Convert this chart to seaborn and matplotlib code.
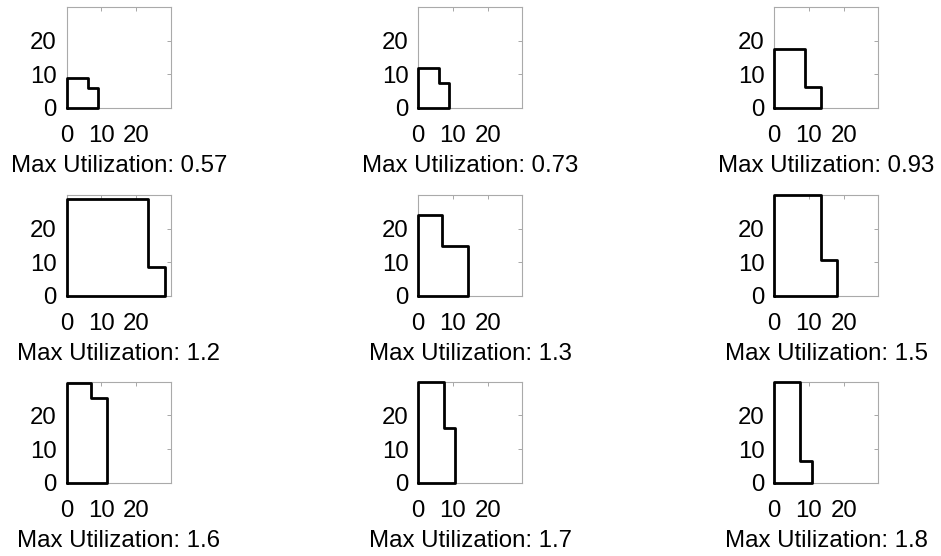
import matplotlib
matplotlib.use("Agg")
import matplotlib.pyplot as plt
import seaborn as sns
import pandas as pd

# ---- data ----
utilization = ["0.57", "0.73", "0.93", "1.2", "1.3", "1.5", "1.6", "1.7", "1.8"]
# staircase outline: height of first step, width of first step,
# height of second step, total width
step1_height = [9.0, 12.0, 17.5, 28.7, 24.2, 30.0, 29.7, 29.9, 29.9]
step1_width = [6.0, 6.0, 8.8, 23.5, 6.7, 13.4, 6.9, 7.4, 7.4]
step2_height = [6.0, 7.4, 6.1, 8.6, 14.8, 10.6, 25.2, 16.1, 6.4]
step2_width = [9.1, 8.9, 13.5, 28.3, 14.4, 18.0, 11.6, 10.5, 10.8]
tick_values = [0, 10, 20]
axis_limit = 30

sns.set_theme(style="white")
plt.rcParams["font.family"] = ["Liberation Sans", "DejaVu Sans"]

W, H = 941, 556
fig = plt.figure(figsize=(W / 100, H / 100), dpi=100)

col_left = [66.7, 418.3, 774.3]
row_top = [7, 195, 381.7]
ax_w, ax_h = 104, 101
fs = 17.3

for i in range(9):
    r, c = divmod(i, 3)
    ax = fig.add_axes([col_left[c] / W, (H - row_top[r] - ax_h) / H, ax_w / W, ax_h / H])
    for sp in ax.spines.values():
        sp.set_color("#aaaaaa")
        sp.set_linewidth(0.8)
        sp.set_zorder(1)
    xs = [0, 0, step1_width[i], step1_width[i], step2_width[i], step2_width[i], 0]
    ys = [0, step1_height[i], step1_height[i], step2_height[i], step2_height[i], 0, 0]
    df = pd.DataFrame({"x": xs, "y": ys})
    sns.lineplot(data=df, x="x", y="y", sort=False, estimator=None, color="black",
                 linewidth=2.0, ax=ax, clip_on=False, zorder=5)
    ax.set_xlim(0, axis_limit)
    ax.set_ylim(0, axis_limit)
    ax.set_xticks(tick_values)
    ax.set_yticks(tick_values)
    ax.set_xticklabels([str(t) for t in tick_values])
    ax.set_yticklabels([str(t) for t in tick_values])
    ax.tick_params(axis="both", direction="in", length=3, width=0.6, color="#999999",
                   labelsize=fs, labelcolor="black", top=True, right=True)
    ax.tick_params(axis="x", pad=12.5)
    ax.tick_params(axis="y", pad=7)
    ax.set_ylabel("")
    ax.set_xlabel(f"Max Utilization: {utilization[i]}", fontsize=fs, color="black", labelpad=5.5)

fig.savefig("out.png", dpi=100)
